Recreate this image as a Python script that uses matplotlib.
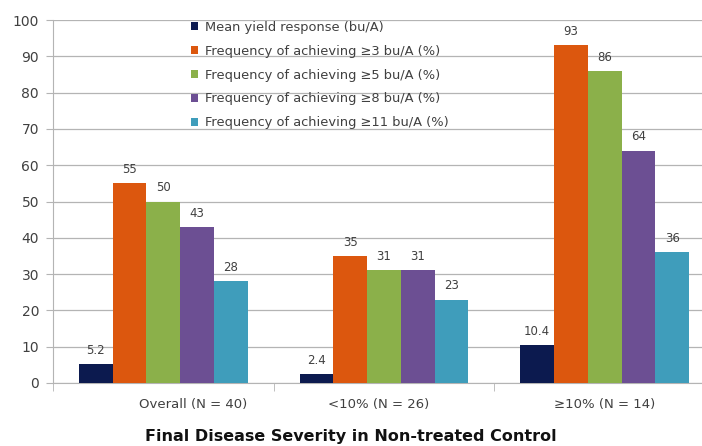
import numpy as np
import matplotlib
matplotlib.use('Agg')
import matplotlib.pyplot as plt
from matplotlib.transforms import ScaledTranslation

# categories and series
categories = ['Overall (N = 40)', '<10% (N = 26)', '\u226510% (N = 14)']
series_names = [
    'Mean yield response (bu/A)',
    'Frequency of achieving \u22653 bu/A (%)',
    'Frequency of achieving \u22655 bu/A (%)',
    'Frequency of achieving \u22658 bu/A (%)',
    'Frequency of achieving \u226511 bu/A (%)',
]
mean_yield = [5.2, 2.4, 10.4]
freq_3 = [55, 35, 93]
freq_5 = [50, 31, 86]
freq_8 = [43, 31, 64]
freq_11 = [28, 23, 36]
value_labels = [
    ['5.2', '2.4', '10.4'],
    ['55', '35', '93'],
    ['50', '31', '86'],
    ['43', '31', '64'],
    ['28', '23', '36'],
]
colors = ['#0c1a4f', '#dc570e', '#8bb04a', '#6c4f93', '#3f9dbb']

series = [mean_yield, freq_3, freq_5, freq_8, freq_11]
text_color = '#404040'
grid_color = '#b4b4b4'

fig = plt.figure(figsize=(7.02, 4.46), dpi=100)
# axes run past the right edge, the reference is cropped there
ax = fig.add_axes([53 / 702, 1 - 383 / 446, 662 / 702, 363 / 446])

x = np.arange(len(categories))
width = 0.153
for i, (vals, name) in enumerate(zip(series, series_names)):
    pos = x + (i - 2) * width
    bars = ax.bar(pos, vals, width, color=colors[i], label=name, zorder=3)
    for b, lab in zip(bars, value_labels[i]):
        ax.text(b.get_x() + b.get_width() / 2, b.get_height() + 2.0, lab,
                ha='center', va='bottom', fontsize=8.5, color=text_color)

ax.set_xlim(-0.5, 2.5)
ax.set_ylim(0, 100)
ax.set_yticks(np.arange(0, 101, 10))
ax.set_xticks([-0.5, 0.5, 1.5, 2.5], minor=True)
ax.set_xticks(x)
ax.set_xticklabels(categories)
ax.tick_params(axis='x', which='major', length=0, pad=11,
               labelsize=9.5, labelcolor=text_color)
ax.tick_params(axis='x', which='minor', length=6, color=grid_color)
ax.tick_params(axis='y', length=5, color=grid_color, labelsize=10,
               labelcolor=text_color, pad=5)

# category labels sit a bit off-centre in the original
shifts = [0.30, -0.05, 0.0]
for lab, dx in zip(ax.get_xticklabels(), shifts):
    lab.set_transform(lab.get_transform() +
                      ScaledTranslation(dx, 0, fig.dpi_scale_trans))

ax.grid(axis='y', color=grid_color, linewidth=0.9, zorder=0)
for s in ['top', 'right']:
    ax.spines[s].set_visible(False)
for s in ['left', 'bottom']:
    ax.spines[s].set_color(grid_color)

leg = ax.legend(loc='upper left', bbox_to_anchor=(0.19, 1.03), frameon=False,
                fontsize=9.4, handlelength=0.55, handleheight=0.55,
                handletextpad=0.55, labelspacing=0.83, labelcolor=text_color)

fig.text(0.5, 0.004, 'Final Disease Severity in Non-treated Control',
         ha='center', va='bottom', fontsize=11.5, fontweight='bold', color='#111111')

fig.savefig('out.png', dpi=100)
